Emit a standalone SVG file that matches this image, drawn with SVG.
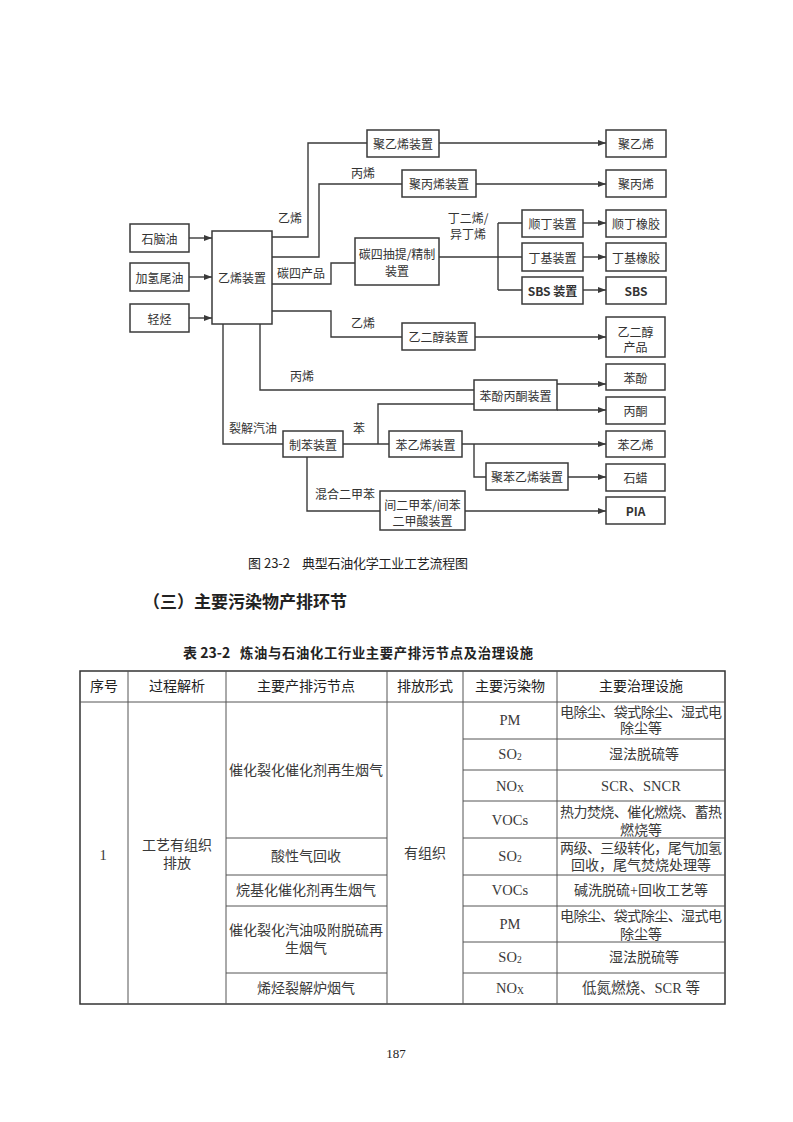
<svg xmlns="http://www.w3.org/2000/svg" width="793" height="1122" viewBox="0 0 793 1122">
<defs>
<style>
.box{fill:#fff;stroke:#3a3a3a;stroke-width:1.5}
.ln{fill:none;stroke:#3a3a3a;stroke-width:1.4}
.ar{marker-end:url(#ah)}
.t{font-family:"Noto Sans CJK SC",sans-serif;font-size:12px;fill:#333;text-anchor:middle;dominant-baseline:central}
.b{font-weight:700}
.tb{font-family:"Liberation Serif","Noto Sans CJK SC",serif;font-size:14px;fill:#3a3a3a;text-anchor:middle;dominant-baseline:central}
.th{font-size:14px;fill:#222}
.la{font-size:14.5px}
.tl{fill:none;stroke:#555;stroke-width:1}
.to{fill:none;stroke:#333;stroke-width:1.5}
.cap{font-family:"Noto Sans CJK SC",sans-serif;fill:#222;dominant-baseline:central}
</style>
<marker id="ah" markerWidth="8" markerHeight="6" refX="8" refY="3" orient="auto" markerUnits="userSpaceOnUse"><path d="M0,0 L8,3 L0,6 z" fill="#3a3a3a"/></marker>
</defs>
<rect width="793" height="1122" fill="#fff"/>

<g id="connectors">
<path class="ln ar" d="M189,238 H212"/>
<path class="ln ar" d="M189,277 H212"/>
<path class="ln ar" d="M189,318 H212"/>
<path class="ln" d="M272,237 H308 V143 H367"/>
<path class="ln" d="M272,257 H319 V184 H402"/>
<path class="ln" d="M272,284 H331 V263 H355"/>
<path class="ln" d="M272,311 H331 V337 H402"/>
<path class="ln ar" d="M439,143 H606"/>
<path class="ln ar" d="M476,184 H606"/>
<path class="ln" d="M439,257 H522 M498,223 V290 M498,223 H522 M498,290 H522"/>
<path class="ln ar" d="M583,223 H606"/>
<path class="ln ar" d="M583,257 H606"/>
<path class="ln ar" d="M583,290 H606"/>
<path class="ln ar" d="M475,337 H606"/>
<path class="ln" d="M260,324 V390 H474"/>
<path class="ln ar" d="M557,384 H606"/>
<path class="ln ar" d="M557,410 H606"/>
<path class="ln" d="M223,324 V444 H283"/>
<path class="ln" d="M343,444 H389 M378,444 V404 H474"/>
<path class="ln ar" d="M462,444 H606"/>
<path class="ln" d="M474,444 V477 H486"/>
<path class="ln ar" d="M568,477 H606"/>
<path class="ln" d="M307,457 V511 H380"/>
<path class="ln ar" d="M465,511 H606"/>
</g>

<g id="labels">
<text class="t" x="290" y="217">乙烯</text>
<text class="t" x="363" y="172">丙烯</text>
<text class="t" x="301" y="272">碳四产品</text>
<text class="t" x="363" y="322">乙烯</text>
<text class="t" x="468" y="217">丁二烯/</text>
<text class="t" x="468" y="233">异丁烯</text>
<text class="t" x="302" y="375">丙烯</text>
<text class="t" x="253" y="427">裂解汽油</text>
<text class="t" x="359" y="427">苯</text>
<text class="t" x="345" y="493">混合二甲苯</text>
</g>

<g id="n-naphtha"><rect class="box" x="130" y="224" width="59" height="28"/><text class="t" x="159.5" y="238">石脑油</text></g>
<g id="n-hydro"><rect class="box" x="130" y="263" width="59" height="28"/><text class="t" x="159.5" y="277">加氢尾油</text></g>
<g id="n-light"><rect class="box" x="130" y="304" width="59" height="28"/><text class="t" x="159.5" y="318">轻烃</text></g>
<g id="n-ethylene-unit"><rect class="box" x="212" y="231" width="60" height="93"/><text class="t" x="242" y="277">乙烯装置</text></g>
<g id="n-pe-unit"><rect class="box" x="367" y="130" width="72" height="27"/><text class="t" x="403" y="143.5">聚乙烯装置</text></g>
<g id="n-pp-unit"><rect class="box" x="402" y="170" width="74" height="27"/><text class="t" x="439" y="183.5">聚丙烯装置</text></g>
<g id="n-c4"><rect class="box" x="355" y="238" width="84" height="47"/><text class="t" x="397" y="253">碳四抽提/精制</text><text class="t" x="397" y="270">装置</text></g>
<g id="n-br-unit"><rect class="box" x="522" y="210" width="61" height="27"/><text class="t" x="552.5" y="223.5">顺丁装置</text></g>
<g id="n-iir-unit"><rect class="box" x="522" y="243" width="61" height="28"/><text class="t" x="552.5" y="257">丁基装置</text></g>
<g id="n-sbs-unit"><rect class="box" x="522" y="277" width="61" height="27"/><text class="t b" x="552.5" y="290.5">SBS 装置</text></g>
<g id="n-pe"><rect class="box" x="606" y="130" width="60" height="27"/><text class="t" x="636" y="143.5">聚乙烯</text></g>
<g id="n-pp"><rect class="box" x="606" y="170" width="60" height="27"/><text class="t" x="636" y="183.5">聚丙烯</text></g>
<g id="n-br"><rect class="box" x="606" y="210" width="60" height="27"/><text class="t" x="636" y="223.5">顺丁橡胶</text></g>
<g id="n-iir"><rect class="box" x="606" y="243" width="60" height="28"/><text class="t" x="636" y="257">丁基橡胶</text></g>
<g id="n-sbs"><rect class="box" x="606" y="277" width="60" height="27"/><text class="t b" x="636" y="290.5">SBS</text></g>
<g id="n-eg-unit"><rect class="box" x="402" y="323" width="73" height="27"/><text class="t" x="438.5" y="336.5">乙二醇装置</text></g>
<g id="n-eg"><rect class="box" x="606" y="317" width="59" height="40"/><text class="t" x="635.5" y="331">乙二醇</text><text class="t" x="635.5" y="346">产品</text></g>
<g id="n-phenol-unit"><rect class="box" x="474" y="380" width="83" height="30"/><text class="t" x="515.5" y="395">苯酚丙酮装置</text></g>
<g id="n-phenol"><rect class="box" x="606" y="364" width="59" height="26"/><text class="t" x="635.5" y="377">苯酚</text></g>
<g id="n-acetone"><rect class="box" x="606" y="397" width="59" height="27"/><text class="t" x="635.5" y="410.5">丙酮</text></g>
<g id="n-benzene-unit"><rect class="box" x="283" y="431" width="60" height="26"/><text class="t" x="313" y="444">制苯装置</text></g>
<g id="n-styrene-unit"><rect class="box" x="389" y="431" width="73" height="26"/><text class="t" x="425.5" y="444">苯乙烯装置</text></g>
<g id="n-styrene"><rect class="box" x="606" y="431" width="59" height="26"/><text class="t" x="635.5" y="444">苯乙烯</text></g>
<g id="n-ps-unit"><rect class="box" x="486" y="463" width="82" height="27"/><text class="t" x="527" y="476.5">聚苯乙烯装置</text></g>
<g id="n-wax"><rect class="box" x="606" y="464" width="59" height="27"/><text class="t" x="635.5" y="477.5">石蜡</text></g>
<g id="n-pia-unit"><rect class="box" x="380" y="491" width="85" height="39"/><text class="t" x="422.5" y="504">间二甲苯/间苯</text><text class="t" x="422.5" y="520">二甲酸装置</text></g>
<g id="n-pia"><rect class="box" x="606" y="497" width="59" height="27"/><text class="t b" x="635.5" y="510.5">PIA</text></g>

<g id="captions">
<text class="cap" x="248" y="562" style="font-size:13px">图 23-2</text>
<text class="cap" x="302" y="562" style="font-size:13px" textLength="166" lengthAdjust="spacing">典型石油化学工业工艺流程图</text>
<text class="cap" x="143" y="600" style="font-size:17px;font-weight:700" textLength="204" lengthAdjust="spacing">（三）主要污染物产排环节</text>
<text class="cap" x="183" y="652" style="font-size:14px;font-weight:700">表 23-2</text>
<text class="cap" x="240" y="652" style="font-size:13.3px;font-weight:700" textLength="293" lengthAdjust="spacing">炼油与石油化工行业主要产排污节点及治理设施</text>
<text x="396" y="1053" style="font-family:'Liberation Serif',serif;font-size:13px;fill:#222;text-anchor:middle;dominant-baseline:central">187</text>
</g>

<g id="table">
<rect class="to" x="80" y="671" width="645" height="333"/>
<path class="tl" d="M80,702 H725 M128,671 V1004 M226,671 V1004 M387,671 V1004 M463,671 V1004 M557,671 V1004"/>
<path class="tl" d="M463,739 H725 M463,770 H725 M463,801 H725 M463,838 H725 M463,875 H725 M463,906 H725 M463,942 H725 M463,973 H725"/>
<path class="tl" d="M226,838 H387 M226,875 H387 M226,906 H387 M226,973 H387"/>
<text class="tb th" x="104" y="686">序号</text>
<text class="tb th" x="177" y="686">过程解析</text>
<text class="tb th" x="306" y="686">主要产排污节点</text>
<text class="tb th" x="425" y="686">排放形式</text>
<text class="tb th" x="510" y="686">主要污染物</text>
<text class="tb th" x="641" y="686">主要治理设施</text>

<text class="tb la" x="103" y="855">1</text>
<text class="tb" x="177" y="845">工艺有组织</text>
<text class="tb" x="177" y="863">排放</text>
<text class="tb" x="425" y="853">有组织</text>

<text class="tb" x="306" y="770">催化裂化催化剂再生烟气</text>
<text class="tb" x="306" y="856">酸性气回收</text>
<text class="tb" x="306" y="890">烷基化催化剂再生烟气</text>
<text class="tb" x="306" y="930">催化裂化汽油吸附脱硫再</text>
<text class="tb" x="306" y="948">生烟气</text>
<text class="tb" x="306" y="988">烯烃裂解炉烟气</text>

<text class="tb la" x="510" y="720">PM</text>
<text class="tb la" x="510" y="754">SO<tspan font-size="9.5" dy="3">2</tspan></text>
<text class="tb la" x="510" y="786">NO<tspan font-size="9.5" dy="3">X</tspan></text>
<text class="tb la" x="510" y="820">VOCs</text>
<text class="tb la" x="510" y="856">SO<tspan font-size="9.5" dy="3">2</tspan></text>
<text class="tb la" x="510" y="890">VOCs</text>
<text class="tb la" x="510" y="924">PM</text>
<text class="tb la" x="510" y="957">SO<tspan font-size="9.5" dy="3">2</tspan></text>
<text class="tb la" x="510" y="988">NO<tspan font-size="9.5" dy="3">X</tspan></text>

<text class="tb" x="641" y="712" textLength="162" lengthAdjust="spacing">电除尘、袋式除尘、湿式电</text>
<text class="tb" x="641" y="728">除尘等</text>
<text class="tb" x="644" y="754">湿法脱硫等</text>
<text class="tb la" x="641" y="786">SCR、SNCR</text>
<text class="tb" x="641" y="812" textLength="162" lengthAdjust="spacing">热力焚烧、催化燃烧、蓄热</text>
<text class="tb" x="641" y="830">燃烧等</text>
<text class="tb" x="641" y="848" textLength="162" lengthAdjust="spacing">两级、三级转化，尾气加氢</text>
<text class="tb" x="641" y="865">回收，尾气焚烧处理等</text>
<text class="tb" x="641" y="890">碱洗脱硫+回收工艺等</text>
<text class="tb" x="641" y="916" textLength="162" lengthAdjust="spacing">电除尘、袋式除尘、湿式电</text>
<text class="tb" x="641" y="934">除尘等</text>
<text class="tb" x="644" y="957">湿法脱硫等</text>
<text class="tb la" x="641" y="988">低氮燃烧、SCR 等</text>
</g>
</svg>
